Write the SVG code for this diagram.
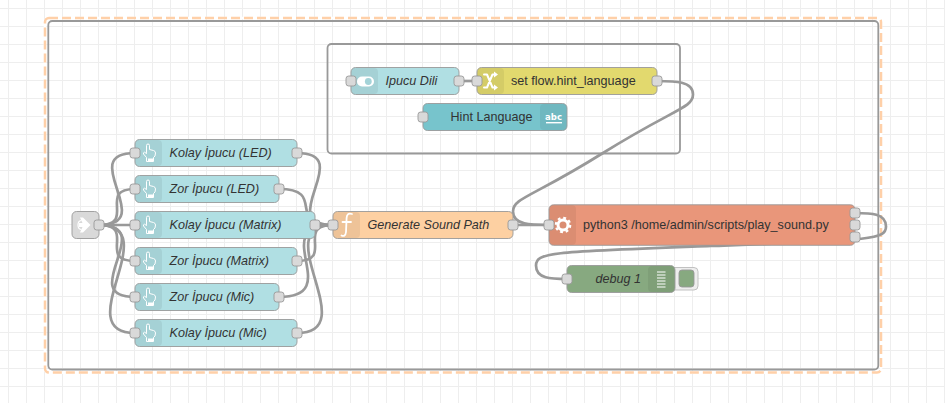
<svg xmlns="http://www.w3.org/2000/svg" width="945" height="403" viewBox="0 0 945 403">
<style>
text{font-family:"Liberation Sans",Arial,sans-serif;font-size:12.6px;fill:#333}
.it{font-style:italic}
.body{stroke:#999;stroke-width:.9}
.ui{fill:#b0dfe3}
.sec{fill:#000;fill-opacity:.06}
.port{fill:#d9d9d9;stroke:#999;stroke-width:.9}
.wire{fill:none;stroke:#999;stroke-width:2.7}
.grp{fill:none;stroke:#999;stroke-width:1.8}
.ic{fill:none;stroke:#fff;stroke-linecap:round;stroke-linejoin:round}
</style>
<defs>
<pattern id="grid" width="18" height="18" patternUnits="userSpaceOnUse" x="8" y="8">
<path d="M.5 0V18M0 .5H18" fill="none" stroke="#eee" stroke-width="1"/>
</pattern>
<rect id="pt" x="-5" y="-5" width="10" height="10" rx="2.700" class="port"/>
<g id="hand">
<path class="ic" stroke-width="1" d="M3.500 9V2Q3.500 .5 5 .5T6.500 2V6L10.500 7Q12.500 7.600 12.500 9.500L12 12.500 10.500 14V18H3.500V14L.5 10.500Q0 9 1.500 8.700L3.500 10"/>
<rect x="5" y="15" width="5" height="2.600" fill="#fff"/>
</g>
</defs>
<rect width="945" height="403" fill="#fff"/>
<rect width="945" height="403" fill="url(#grid)"/>

<g id="group-outer">
<rect x="45" y="18" width="836" height="354.600" rx="4" fill="none" stroke="#fff" stroke-width="2.700"/>
<rect x="45" y="18" width="836" height="354.600" rx="4" fill="none" stroke="#ffd0a8" stroke-width="2.500" stroke-dasharray="9 4"/>
<rect x="48.300" y="21" width="830" height="348.500" rx="4" class="grp"/>
</g>
<g id="group-inner"><rect x="327.500" y="44" width="352.500" height="109.500" rx="4" class="grp"/></g>

<g id="connectors">
<path class="wire" d="M99 225C159.400 225 74.600 153 135 153"/>
<path class="wire" d="M99 225C137.200 225 96.800 189 135 189"/>
<path class="wire" d="M99 225H135"/>
<path class="wire" d="M99 225C137.200 225 96.800 261 135 261"/>
<path class="wire" d="M99 225C159.400 225 74.600 297 135 297"/>
<path class="wire" d="M99 225C166.500 225 67.500 333 135 333"/>
<path class="wire" d="M297 153C357.400 153 272.600 225 333 225"/>
<path class="wire" d="M279 189C327.700 189 284.300 225 333 225"/>
<path class="wire" d="M315 225H333"/>
<path class="wire" d="M297 261C335.200 261 294.800 225 333 225"/>
<path class="wire" d="M279 297C346.500 297 265.500 225 333 225"/>
<path class="wire" d="M297 333C364.500 333 265.500 225 333 225"/>
<path class="wire" d="M459 81H477"/>
<path class="wire" d="M513 225H549"/>
<path class="wire" d="M657 81C675 81 693 81 693 94.500S675 108 603 153S513 198 513 211.500S531 225 549 225"/>
<path class="wire" d="M855 213C870.500 213 886 213 886 226.500S870.500 240 711 246S536 252 536 265.500S551.500 279 567 279"/>
</g>

<g id="inject">
<rect x="72" y="211.500" width="27" height="27" rx="4.500" fill="#d9d9d9" class="body"/>
<path fill="#fff" d="M80 217.500H83L90.500 225 83 232.500H80L82.500 227H79V223H82.500Z"/>
<path class="ic" stroke-width="1.200" d="M81 220.500Q78 221 78 225T81 229.500"/>
<use href="#pt" x="99" y="225"/>
</g>

<g id="kolay-led">
<rect x="135" y="139.500" width="162" height="27" rx="4.500" class="body ui"/>
<rect x="135.500" y="140" width="26.500" height="26" rx="4" class="sec"/>
<use href="#hand" x="143" y="143.500"/>
<text class="it" x="169.500" y="156.700">Kolay İpucu (LED)</text>
<use href="#pt" x="135" y="153"/><use href="#pt" x="297" y="153"/>
</g>
<g id="zor-led">
<rect x="135" y="175.500" width="144" height="27" rx="4.500" class="body ui"/>
<rect x="135.500" y="176" width="26.500" height="26" rx="4" class="sec"/>
<use href="#hand" x="143" y="179.500"/>
<text class="it" x="169.500" y="192.700">Zor İpucu (LED)</text>
<use href="#pt" x="135" y="189"/><use href="#pt" x="279" y="189"/>
</g>
<g id="kolay-matrix">
<rect x="135" y="211.500" width="180" height="27" rx="4.500" class="body ui"/>
<rect x="135.500" y="212" width="26.500" height="26" rx="4" class="sec"/>
<use href="#hand" x="143" y="215.500"/>
<text class="it" x="169.500" y="228.700">Kolay İpucu (Matrix)</text>
<use href="#pt" x="135" y="225"/><use href="#pt" x="315" y="225"/>
</g>
<g id="zor-matrix">
<rect x="135" y="247.500" width="162" height="27" rx="4.500" class="body ui"/>
<rect x="135.500" y="248" width="26.500" height="26" rx="4" class="sec"/>
<use href="#hand" x="143" y="251.500"/>
<text class="it" x="169.500" y="264.700">Zor İpucu (Matrix)</text>
<use href="#pt" x="135" y="261"/><use href="#pt" x="297" y="261"/>
</g>
<g id="zor-mic">
<rect x="135" y="283.500" width="144" height="27" rx="4.500" class="body ui"/>
<rect x="135.500" y="284" width="26.500" height="26" rx="4" class="sec"/>
<use href="#hand" x="143" y="287.500"/>
<text class="it" x="169.500" y="300.700">Zor İpucu (Mic)</text>
<use href="#pt" x="135" y="297"/><use href="#pt" x="279" y="297"/>
</g>
<g id="kolay-mic">
<rect x="135" y="319.500" width="162" height="27" rx="4.500" class="body ui"/>
<rect x="135.500" y="320" width="26.500" height="26" rx="4" class="sec"/>
<use href="#hand" x="143" y="323.500"/>
<text class="it" x="169.500" y="336.700">Kolay İpucu (Mic)</text>
<use href="#pt" x="135" y="333"/><use href="#pt" x="297" y="333"/>
</g>

<g id="function">
<rect x="333" y="211.500" width="180" height="27" rx="4.500" fill="#fdd0a2" class="body"/>
<rect x="333.500" y="212" width="26.500" height="26" rx="4" class="sec"/>
<path class="ic" stroke-width="1.800" d="M352 214C348 212.500 346.800 215 346.600 218L346 232C345.600 236 343.500 236.500 341.500 235.500M342.500 222H351"/>
<text class="it" x="367.500" y="228.700">Generate Sound Path</text>
<use href="#pt" x="333" y="225"/><use href="#pt" x="513" y="225"/>
</g>

<g id="ipucu-dili">
<rect x="351" y="67.500" width="108" height="27" rx="4.500" class="body ui"/>
<rect x="351.500" y="68" width="26.500" height="26" rx="4" class="sec"/>
<rect x="357" y="76.500" width="17" height="10" rx="5" fill="#fff"/>
<circle cx="368.300" cy="81.500" r="3.400" fill="#a4d3d8"/>
<text class="it" x="385.500" y="84.700">Ipucu Dili</text>
<use href="#pt" x="351" y="81"/><use href="#pt" x="459" y="81"/>
</g>
<g id="set-flow">
<rect x="477" y="67.500" width="180" height="27" rx="4.500" fill="#e2d96e" class="body"/>
<rect x="477.500" y="68" width="26.500" height="26" rx="4" class="sec"/>
<path class="ic" stroke-width="2" d="M484 74.500H487L492.500 87.500H495M484 87.500H487L492.500 74.500H495"/>
<path fill="#fff" d="M494 71.500L498 74.500 494 77.500ZM494 84.500L498 87.500 494 90.500Z"/>
<text x="511" y="84.700">set flow.hint_language</text>
<use href="#pt" x="477" y="81"/><use href="#pt" x="657" y="81"/>
</g>
<g id="hint-language">
<rect x="423" y="103.500" width="144" height="27" rx="4.500" fill="#77c4cc" class="body"/>
<rect x="540" y="104" width="26.500" height="26" rx="4" class="sec"/>
<text x="450.500" y="120.700">Hint Language</text>
<text x="553.500" y="119.500" text-anchor="middle" style="font-family:'DejaVu Sans',sans-serif;font-size:8.500px;font-weight:700;fill:#fff">abc</text>
<rect x="546" y="122" width="16" height="1.400" fill="#fff"/>
<use href="#pt" x="423" y="117"/>
</g>

<g id="python-exec">
<rect x="549" y="204.800" width="306" height="40.500" rx="4.500" fill="#e9967a" class="body"/>
<rect x="549.500" y="205.300" width="26.500" height="39.500" rx="4" class="sec"/>
<circle cx="563" cy="225" r="5" fill="none" stroke="#fff" stroke-width="3"/>
<circle cx="563" cy="225" r="7.200" fill="none" stroke="#fff" stroke-width="2.200" stroke-dasharray="2.830 2.830"/>
<text x="583" y="228.700">python3 /home/admin/scripts/play_sound.py</text>
<use href="#pt" x="549" y="225"/><use href="#pt" x="855" y="213"/><use href="#pt" x="855" y="225"/><use href="#pt" x="855" y="237"/>
</g>
<g id="debug">
<rect x="668" y="267.500" width="30" height="22.500" rx="4" fill="#eee" stroke="#bbb" stroke-width=".9"/>
<rect x="679" y="270" width="15" height="17" rx="3" fill="#87a980" stroke="#999" stroke-width=".9"/>
<rect x="567" y="265.500" width="108" height="27" rx="4.500" fill="#87a980" class="body"/>
<rect x="648" y="266" width="26.500" height="26" rx="4" class="sec"/>
<path stroke="#fff" stroke-width="1.100" d="M657 272H665.500M657 275H665.500M657 278H665.500M657 281H665.500M657 284H665.500M657 287H665.500"/>
<text class="it" x="595.500" y="282.700">debug 1</text>
<use href="#pt" x="567" y="279"/>
</g>
</svg>
